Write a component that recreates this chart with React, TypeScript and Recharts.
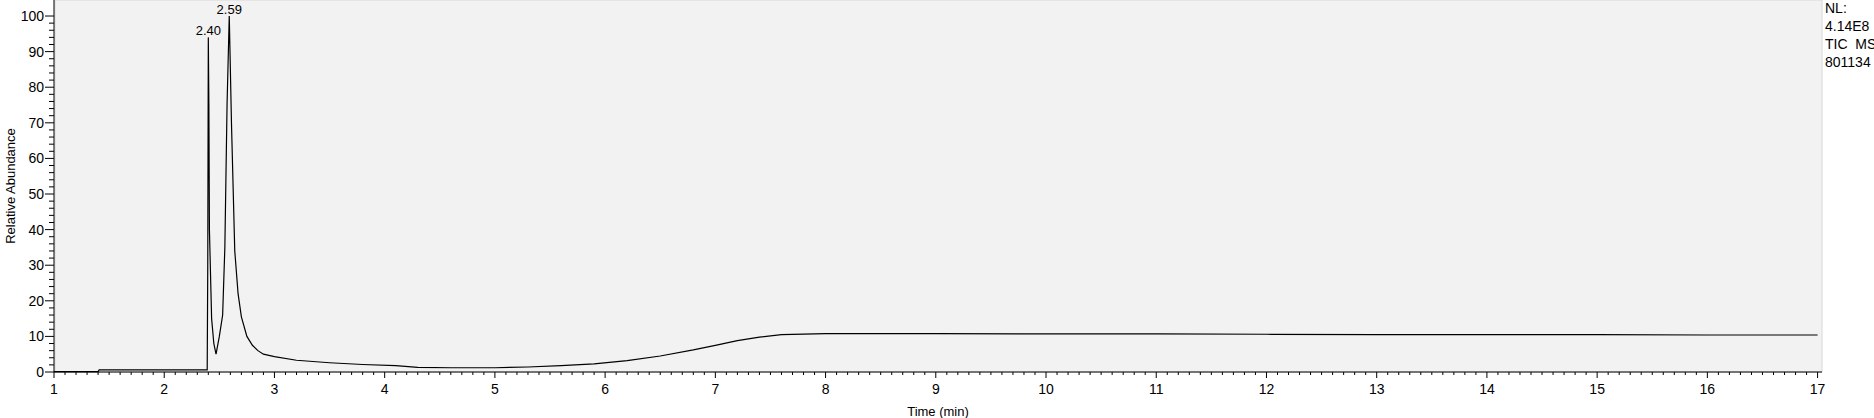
import React from "react";
import { LineChart, Line, XAxis, YAxis, ReferenceDot, Label } from "recharts";

const times = [1.0,1.40,1.41,2.38,2.39,2.395,2.40,2.405,2.41,2.43,2.45,2.47,2.50,2.53,2.55,2.57,2.59,2.61,2.64,2.67,2.70,2.75,2.80,2.85,2.90,3.0,3.2,3.5,3.8,4.1,4.3,4.6,5.0,5.3,5.6,5.9,6.2,6.5,6.8,7.0,7.2,7.4,7.6,8.0,9,10,11,12,13,14,15,16,17];
const abundance = [0.1,0.1,0.6,0.6,0.6,30,94,75,40,15,8,5,10,16,35,75,100,70,34,22,15.5,10,7.5,6,5,4.3,3.3,2.6,2.1,1.8,1.3,1.2,1.2,1.4,1.8,2.3,3.2,4.5,6.2,7.5,8.8,9.8,10.5,10.8,10.8,10.7,10.7,10.6,10.5,10.5,10.5,10.4,10.4];
const peakLabels = [{ t: 2.40, v: 94, text: "2.40" }, { t: 2.59, v: 100, text: "2.59" }];
const infoLines = ["NL:", "4.14E8", "TIC  MS", "801134"];

const data = times.map((t, i) => ({ t, v: abundance[i] }));
const xTicks: number[] = [];
for (let i = 10; i <= 170; i++) xTicks.push(i / 10);
const yTicks: number[] = [];
for (let i = 0; i <= 50; i++) yTicks.push(i * 2);

const font = "'Liberation Sans', Arial, sans-serif";

const XTick = (p: any) => {
  const val = p.payload.value;
  const major = Math.abs(val - Math.round(val)) < 1e-6;
  return (
    <g>
      <line x1={p.x} x2={p.x} y1={p.y} y2={p.y + (major ? 6 : 3)} stroke="#000" />
      {major && (
        <text x={p.x} y={p.y + 22} textAnchor="middle" fontSize={14} fontFamily={font} fill="#000">
          {Math.round(val)}
        </text>
      )}
    </g>
  );
};

const YTick = (p: any) => {
  const val = p.payload.value;
  const major = val % 10 === 0;
  return (
    <g>
      <line x1={p.x} x2={p.x - (major ? 9 : 5)} y1={p.y} y2={p.y} stroke="#000" />
      {major && (
        <text x={p.x - 10} y={p.y + 5} textAnchor="end" fontSize={14} fontFamily={font} fill="#000">
          {val}
        </text>
      )}
    </g>
  );
};

const YTitle = (props: any) => {
  const vb = props.viewBox || {};
  const cy = (vb.y || 0) + (vb.height || 0) / 2;
  return (
    <text x={15} y={cy} transform={`rotate(-90, 15, ${cy})`} textAnchor="middle" fontSize={13} fontFamily={font} fill="#000">
      Relative Abundance
    </text>
  );
};

export default function App() {
  return (
    <div style={{ position: "absolute", left: 0, top: 0, width: 1874, height: 418, background: "#fff" }}>
      <LineChart width={1874} height={418} data={data} margin={{ top: 0, right: 52, bottom: 0, left: 0 }}>
        <rect x={55} y={0} width={1767} height={372} fill="#f2f2f2" stroke="#d8d8d8" />
        <XAxis
          dataKey="t"
          type="number"
          domain={[1, 17.04]}
          ticks={xTicks}
          interval={0}
          tick={<XTick />}
          tickLine={false}
          tickSize={0}
          tickMargin={0}
          axisLine={{ stroke: "#000" }}
          height={46}
        >
          <Label value="Time (min)" position="insideBottom" offset={2} fontSize={13} fontFamily={font} fill="#000" />
        </XAxis>
        <YAxis
          type="number"
          domain={[0, 104.5]}
          ticks={yTicks}
          interval={0}
          tick={<YTick />}
          tickLine={false}
          tickSize={0}
          tickMargin={0}
          axisLine={{ stroke: "#000" }}
          width={54}
        >
          <Label content={<YTitle />} />
        </YAxis>
        <Line dataKey="v" type="linear" stroke="#000" strokeWidth={1.2} dot={false} isAnimationActive={false} />
        {peakLabels.map((p) => (
          <ReferenceDot key={p.text} x={p.t} y={p.v} r={0} fill="none" stroke="none">
            <Label value={p.text} position="top" offset={2} fontSize={13} fontFamily={font} fill="#000" />
          </ReferenceDot>
        ))}
      </LineChart>
      <div style={{ position: "absolute", left: 1825, top: -1, fontFamily: font, fontSize: 14, lineHeight: "18px", color: "#000" }}>
        {infoLines.map((l) => (
          <div key={l} style={{ whiteSpace: "pre" }}>{l}</div>
        ))}
      </div>
    </div>
  );
}
